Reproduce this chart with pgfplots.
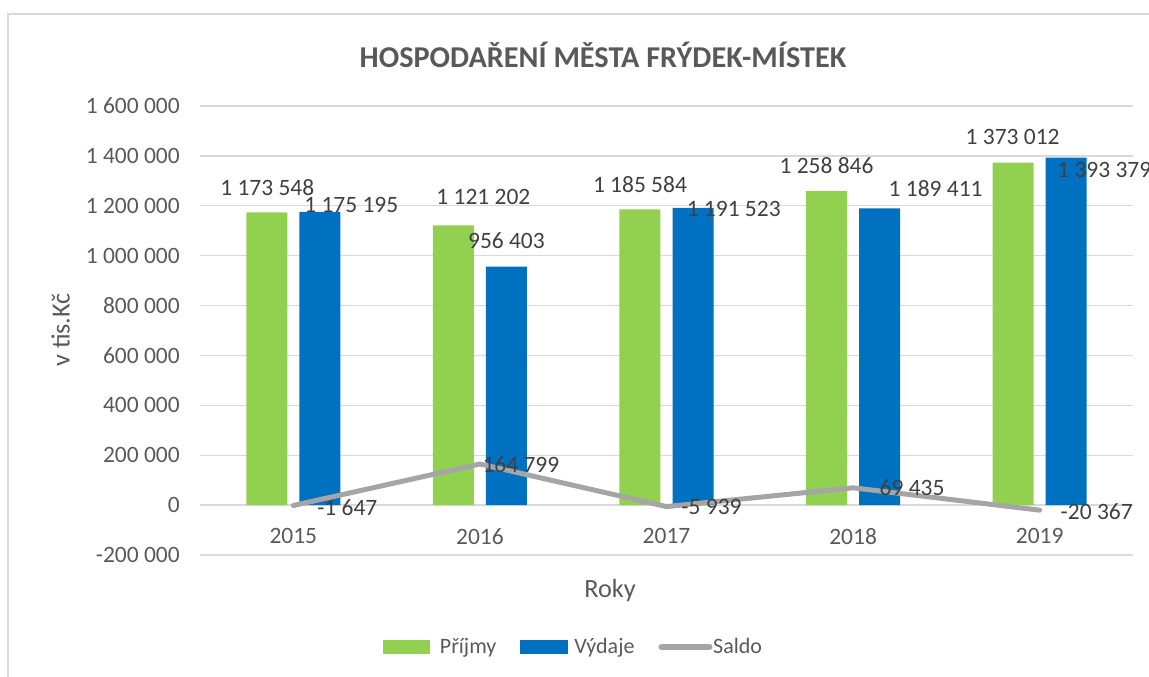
\documentclass[border=0pt]{standalone}
\usepackage{pgfplots}
\usepackage{pgfplotstable}
\pgfplotsset{compat=1.18}
\usepackage{fontspec}
\setmainfont{Carlito}
\definecolor{pgreen}{HTML}{92D050}
\definecolor{pblue}{HTML}{0070C0}
\definecolor{pgray}{HTML}{A5A5A5}
\definecolor{tgray}{HTML}{595959}
\definecolor{lgray}{HTML}{404040}
\definecolor{gridc}{HTML}{D9D9D9}

% dx, dy: label offsets (pt) from the category centre / data point
\pgfplotstableread{
x y dx dy
0 1173548 -19.5 18.4
1 1121202 2.6 21
2 1185584 -19.9 18.4
3 1258846 -19.9 19.1
4 1373012 -20.3 19.1
}\prijmy
\pgfplotstableread{
x y dx dy
0 1175195 43.5 5.25
1 956403 19.9 19.5
2 1191523 50.4 -0.75
3 1189411 61.9 15
4 1393379 48.4 -9
}\vydaje
\pgfplotstableread{
x y dx dy
0 -1647 40.5 -1.5
1 164799 30.75 -0.75
2 -5939 33.75 0
3 69435 44.25 0
4 -20367 42.75 -0.75
}\saldo

\begin{document}
\begin{tikzpicture}
\useasboundingbox (0pt,0pt) rectangle (861.75pt,507.75pt);
\draw[gridc, line width=1.1pt] (6pt,-2pt) -- (6pt,497.25pt) -- (865pt,497.25pt);
\node[anchor=base, font=\fontsize{22.7}{27}\selectfont\bfseries, text=tgray] at (452.25pt,456.75pt) {HOSPODAŘENÍ MĚSTA FRÝDEK-MÍSTEK};
\node[anchor=south, rotate=90, inner sep=0pt, font=\fontsize{19.7}{23}\selectfont, text=tgray] at (52.5pt,260.25pt) {v tis.Kč};
\node[anchor=base, inner sep=0pt, font=\fontsize{19.7}{23}\selectfont, text=tgray] at (457.5pt,59.25pt) {Roky};
\begin{axis}[
  at={(150pt,91.5pt)}, anchor=south west,
  scale only axis, width=699.75pt, height=336.75pt,
  clip=false,
  xmin=-0.5, xmax=4.5, ymin=-200000, ymax=1600000,
  ytick={-200000,0,200000,400000,600000,800000,1000000,1200000,1400000,1600000},
  xtick={0,1,2,3,4}, xticklabels={2015,2016,2017,2018,2019},
  axis line style={draw=none}, major tick length=0pt,
  ymajorgrids, grid style={gridc, line width=1pt},
  scaled y ticks=false,
  /pgf/number format/.cd, fixed, precision=0, 1000 sep={\ }, assume math mode=true, /pgfplots/.cd,
  tick label style={font=\fontsize{17.6}{20}\selectfont, text=tgray},
  yticklabel style={anchor=east, inner sep=0pt, xshift=-15pt},
  xticklabel style={anchor=north, inner sep=0pt, yshift=20.25pt},
  legend style={at={(0.1961,-0.2049)}, anchor=west, draw=none, fill=none, inner sep=0pt,
    font=\fontsize{16.5}{19}\selectfont, text=tgray,
    nodes={inner sep=0pt},
    /tikz/every odd column/.append style={column sep=4.5pt},
    /tikz/every even column/.append style={column sep=18pt}},
  legend columns=3, legend cell align=left,
]
\addlegendimage{fill=pgreen, draw=none, legend image code/.code={\fill[pgreen] (0pt,-5.25pt) rectangle (35pt,5.25pt); \path (0pt,0pt) -- (38pt,0pt);}}
\addlegendentry{Příjmy}
\addlegendimage{fill=pblue, draw=none, legend image code/.code={\fill[pblue] (0pt,-5.25pt) rectangle (36pt,5.25pt);}}
\addlegendentry{Výdaje}
\addlegendimage{legend image code/.code={\draw[pgray, line width=4.5pt, line cap=round] (2pt,0pt) -- (38pt,0pt);}}
\addlegendentry{\hspace*{-4pt}Saldo}

\addplot[ybar, bar width=30.75pt, bar shift=-19.9pt, fill=pgreen, draw=none, forget plot,
  nodes near coords,
  visualization depends on={\thisrow{dx}\as\dx},
  visualization depends on={\thisrow{dy}\as\dy},
  every node near coord/.append style={anchor=center, xshift=\dx, yshift=\dy,
     font=\fontsize{17.6}{20}\selectfont, text=lgray, inner sep=0pt}]
  table[x=x,y=y]{\prijmy};
\addplot[ybar, bar width=30.75pt, bar shift=19.9pt, fill=pblue, draw=none, forget plot,
  nodes near coords,
  visualization depends on={\thisrow{dx}\as\dx},
  visualization depends on={\thisrow{dy}\as\dy},
  every node near coord/.append style={anchor=center, xshift=\dx, yshift=\dy,
     font=\fontsize{17.6}{20}\selectfont, text=lgray, inner sep=0pt}]
  table[x=x,y=y]{\vydaje};
\addplot[pgray, line width=3.75pt, line cap=round, line join=round, mark=none, forget plot,
  nodes near coords,
  visualization depends on={\thisrow{dx}\as\dx},
  visualization depends on={\thisrow{dy}\as\dy},
  every node near coord/.append style={anchor=center, xshift=\dx, yshift=\dy,
     font=\fontsize{17.6}{20}\selectfont, text=lgray, inner sep=0pt}]
  table[x=x,y=y]{\saldo};
\end{axis}
\end{tikzpicture}
\end{document}
